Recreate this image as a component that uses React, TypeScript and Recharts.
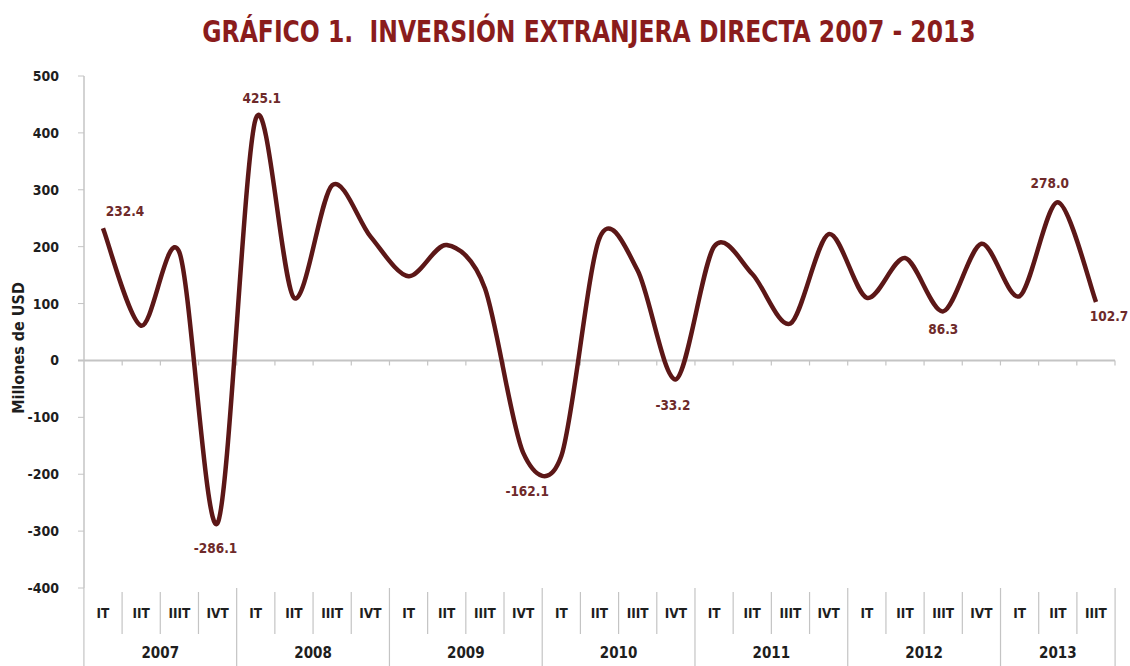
import React from "react";
import { LineChart, Line, XAxis, YAxis, ReferenceLine, LabelList, Label } from "recharts";

// quarterly FDI, millions of USD
const quarters = [
  "IT", "IIT", "IIIT", "IVT",
  "IT", "IIT", "IIIT", "IVT",
  "IT", "IIT", "IIIT", "IVT",
  "IT", "IIT", "IIIT", "IVT",
  "IT", "IIT", "IIIT", "IVT",
  "IT", "IIT", "IIIT", "IVT",
  "IT", "IIT", "IIIT",
];
const years = [
  "2007", "2007", "2007", "2007",
  "2008", "2008", "2008", "2008",
  "2009", "2009", "2009", "2009",
  "2010", "2010", "2010", "2010",
  "2011", "2011", "2011", "2011",
  "2012", "2012", "2012", "2012",
  "2013", "2013", "2013",
];
const ied = [
  232.4, 61, 190, -286.1,
  425.1, 110, 308, 218,
  148, 203, 127, -162.1,
  -168, 215, 158, -33.2,
  200, 152, 65, 222,
  110, 180, 86.3, 205,
  113, 278.0, 102.7,
];
const labelled = [0, 3, 4, 11, 15, 22, 25, 26];
const yTicks = [-400, -300, -200, -100, 0, 100, 200, 300, 400, 500];

const data = quarters.map((q, i) => ({ key: `${years[i]}-${q}`, q, year: years[i], value: ied[i] }));

const FONT = '"Liberation Sans Narrow", "DejaVu Sans Condensed", "Arial Narrow", sans-serif';
const LINE = "#5c1717";
const LABEL = "#6e2a2a";
const GRAY = "#c4c4c4";
const HALF_BAND = 19; // half a category, so points sit mid-category like Excel

// label offsets (dx, dy) relative to the point
const labelOffset: Record<number, [number, number]> = {
  0: [22, -17],
  3: [-2, 25],
  4: [6, -21],
  11: [4, 38],
  15: [-3, 26],
  22: [0, 18],
  25: [-8, -19],
  26: [13, 14],
};

// Excel-like smoothed line (Catmull-Rom through the points)
const smooth = (context: any) => {
  let pts: number[][] = [];
  return {
    areaStart() {},
    areaEnd() {},
    lineStart() {
      pts = [];
    },
    point(x: number, y: number) {
      pts.push([+x, +y]);
    },
    lineEnd() {
      const n = pts.length;
      if (!n) return;
      context.moveTo(pts[0][0], pts[0][1]);
      for (let i = 0; i < n - 1; i++) {
        const p0 = pts[Math.max(i - 1, 0)];
        const p1 = pts[i];
        const p2 = pts[i + 1];
        const p3 = pts[Math.min(i + 2, n - 1)];
        const k = 0.15;
        context.bezierCurveTo(
          p1[0] + (p2[0] - p0[0]) * k,
          p1[1] + (p2[1] - p0[1]) * k,
          p2[0] - (p3[0] - p1[0]) * k,
          p2[1] - (p3[1] - p1[1]) * k,
          p2[0],
          p2[1]
        );
      }
    },
  };
};

// horizontal axis drawn at zero, with tick marks between categories
const ZeroLine = (props: any) => {
  const { x1, x2, y1 } = props;
  const step = (x2 - x1) / quarters.length;
  return (
    <g>
      <line x1={x1 - 6} x2={x2} y1={y1} y2={y1} stroke={GRAY} strokeWidth={2} />
      {quarters.map((_, k) => (
        <line
          key={k}
          x1={x1 + step * (k + 1)}
          x2={x1 + step * (k + 1)}
          y1={y1}
          y2={y1 + 5}
          stroke={GRAY}
          strokeWidth={1.2}
        />
      ))}
    </g>
  );
};

const QuarterTick = (props: any) => {
  const { x, y, payload, index } = props;
  const n = quarters.length;
  const bw = (props.width || 1031) / n;
  const yr = years[index];
  const last = index === n - 1 || years[index + 1] !== yr;
  const first = index === 0 || years[index - 1] !== yr;
  let yearText = null;
  if (first) {
    const len = years.filter((v) => v === yr).length;
    const cx = x - bw / 2 + (len * bw) / 2;
    yearText = (
      <text x={cx} y={y + 70} textAnchor="middle" fontSize={15} fontWeight="bold" fill="#1e1e1e" fontFamily={FONT}>
        {yr}
      </text>
    );
  }
  return (
    <g>
      {index === 0 && (
        <line x1={x - bw / 2} x2={x - bw / 2} y1={y} y2={y + 78} stroke={GRAY} strokeWidth={1.2} />
      )}
      <line
        x1={x + bw / 2}
        x2={x + bw / 2}
        y1={last ? y : y + 4}
        y2={last ? y + 78 : y + 46}
        stroke={GRAY}
        strokeWidth={1.2}
      />
      <text x={x} y={y + 30} textAnchor="middle" fontSize={13.5} fontWeight="bold" fill="#1e1e1e" fontFamily={FONT}>
        {payload.value}
      </text>
      {yearText}
    </g>
  );
};

const PointLabel = (props: any) => {
  const { x, y, value, index } = props;
  if (!labelled.includes(index)) return null;
  const [dx, dy] = labelOffset[index] || [0, -15];
  return (
    <text
      x={x + dx}
      y={y + dy}
      textAnchor="middle"
      dominantBaseline="central"
      fontSize={13.5}
      fontWeight="bold"
      fill={LABEL}
      fontFamily={FONT}
    >
      {Number(value).toFixed(1)}
    </text>
  );
};

export default function App() {
  return (
    <div style={{ position: "relative", width: 1130, height: 666, background: "#fff" }}>
      <style>{`body{margin:0}`}</style>
      <div
        style={{
          position: "absolute",
          top: 14,
          left: 0,
          width: 1178,
          textAlign: "center",
          fontFamily: FONT,
          fontWeight: "bold",
          fontSize: 30,
          color: "#8a1c1c",
          whiteSpace: "pre",
          transform: "scaleX(0.87)",
          transformOrigin: "589px 0",
        }}
      >
        {"GRÁFICO 1.  INVERSIÓN EXTRANJERA DIRECTA 2007 - 2013"}
      </div>
      <LineChart width={1130} height={666} data={data} margin={{ top: 76, right: 15, bottom: 0, left: 0 }}>
        <XAxis
          dataKey="q"
          interval={0}
          padding={{ left: HALF_BAND, right: HALF_BAND }}
          axisLine={false}
          tickLine={false}
          tickSize={0}
          tickMargin={0}
          height={78}
          tick={<QuarterTick />}
        />
        <YAxis
          width={84}
          domain={[-400, 500]}
          ticks={yTicks}
          interval={0}
          axisLine={{ stroke: GRAY, strokeWidth: 1.5 }}
          tickLine={{ stroke: GRAY }}
          tickSize={6}
          tickMargin={19}
          tick={{ fontSize: 14, fontWeight: "bold", fill: "#1e1e1e", fontFamily: FONT }}
        >
          <Label
            content={(p: any) => {
              const vb = p.viewBox || { x: 0, y: 76, width: 84, height: 512 };
              const cy = vb.y + vb.height / 2 + 16;
              return (
                <text
                  x={18}
                  y={cy}
                  transform={`rotate(-90, 18, ${cy})`}
                  textAnchor="middle"
                  dominantBaseline="central"
                  fontSize={16}
                  fontWeight="bold"
                  fill="#1e1e1e"
                  fontFamily={FONT}
                >
                  Millones de USD
                </text>
              );
            }}
          />
        </YAxis>
        <ReferenceLine y={0} shape={ZeroLine} />
        <Line
          dataKey="value"
          type={smooth as any}
          stroke={LINE}
          strokeWidth={4.5}
          dot={false}
          activeDot={false}
          isAnimationActive={false}
        >
          <LabelList dataKey="value" content={<PointLabel />} />
        </Line>
      </LineChart>
    </div>
  );
}
